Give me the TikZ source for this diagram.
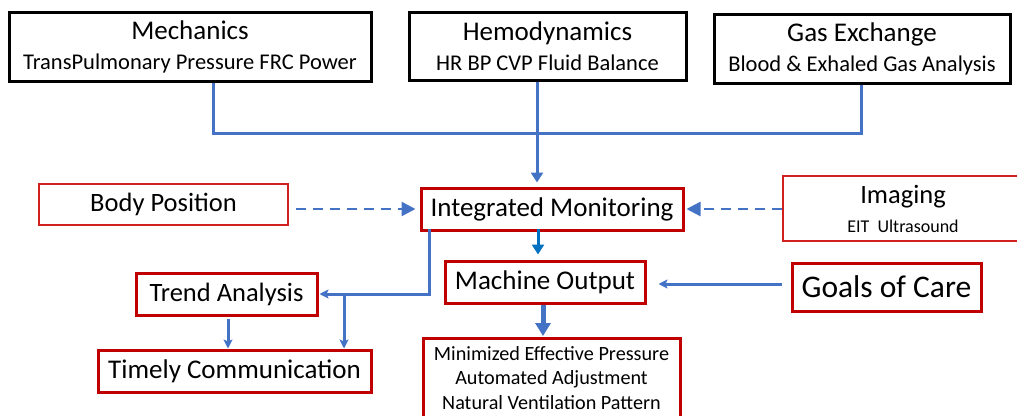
\documentclass[tikz,border=0pt]{standalone}
\usepackage{fontspec}
\setmainfont{Carlito}
\usetikzlibrary{arrows.meta}
\definecolor{lblue}{HTML}{4472C4}
\definecolor{mblue}{HTML}{0070C0}
\definecolor{dred}{HTML}{C00000}
\definecolor{tred}{HTML}{D02020}
\newcommand{\fs}[2]{\fontsize{#1}{#2}\selectfont}
\tikzset{
  blackbox/.style={draw=black, line width=3pt, inner sep=0pt, align=center, fill=white, font=\fs{22.5}{30}},
  redbox/.style={draw=dred, line width=3pt, inner sep=0pt, align=center, fill=white},
  thinbox/.style={draw=tred, line width=1.2pt, inner sep=0pt, align=center, fill=white},
  conn/.style={draw=lblue, line width=3pt},
  dashconn/.style={draw=lblue, line width=2.5pt, dash pattern=on 10pt off 7pt, -{Triangle[width=14pt,length=14pt]}},
  tri/.style={-{Triangle[width=12pt,length=10pt]}},
  sarrow/.style={-{Stealth[width=9pt,length=9pt,inset=2pt]}}
}
\begin{document}
\begin{tikzpicture}[x=1pt,y=-1pt]
\useasboundingbox (0,0) rectangle (1017,415);
% top boxes
\node[blackbox, minimum width=362pt, minimum height=69pt] (mech) at (190,46.5)
  {{\fs{27}{30}Mechanics}\\TransPulmonary Pressure FRC Power};
\node[blackbox, minimum width=277pt, minimum height=68pt] (hemo) at (547.5,46)
  {{\fs{27}{30}Hemodynamics}\\HR BP CVP Fluid Balance};
\node[blackbox, minimum width=296pt, minimum height=69pt] (gas) at (862,48.5)
  {{\fs{27}{30}Gas Exchange}\\Blood \& Exhaled Gas Analysis};
% middle row
\node[thinbox, font=\fs{26.5}{30}, minimum width=249pt, minimum height=41pt] (body) at (163.5,204.5) {Body Position};
\node[redbox, font=\fs{27}{30}, minimum width=262pt, minimum height=42pt] (integ) at (552,209) {Integrated Monitoring};
\node[thinbox, font=\fs{18}{29}, minimum width=240pt, minimum height=65pt] (img) at (903,208.5)
  {{\fs{26.5}{29}Imaging}\\EIT\ \ Ultrasound};
\node[redbox, font=\fs{27}{30}, minimum width=200pt, minimum height=42pt] (mach) at (545,282) {Machine Output};
\node[redbox, font=\fs{31.5}{34}, minimum width=189pt, minimum height=48pt] (goals) at (886.5,287) {Goals of Care};
\node[redbox, minimum width=257pt, minimum height=88pt, anchor=north] (out) at (551.5,337) {};
\node[align=center, inner sep=0pt, font=\fs{20.2}{24.5}] (outtxt) at (551.5,378)
  {Minimized Effective Pressure\\Automated Adjustment\\Natural Ventilation Pattern};
\node[redbox, font=\fs{26.5}{30}, minimum width=181pt, minimum height=42pt] (trend) at (226.5,294) {Trend Analysis};
\node[redbox, font=\fs{27}{30}, minimum width=273pt, minimum height=42pt] (timely) at (234.5,371) {Timely Communication};
% connectors
\coordinate (j1) at (213,133);
\coordinate (j2) at (861,133);
\coordinate (j3) at (537,133);
\draw[conn] (mech.south -| j1) -- (j1) -- (j2) -- (gas.south -| j2);
\draw[conn, tri, shorten >=4pt] (hemo.south -| j3) -- (integ.north -| j3);
\draw[dashconn] ([xshift=7pt]body.east |- integ.west) -- ([xshift=-4pt]integ.west);
\draw[dashconn] (img.west |- integ.east) -- ([xshift=2pt]integ.east);
\coordinate (j4) at (538,0);
\draw[draw=mblue, line width=3pt, -{Triangle[width=12pt,length=10pt]}, shorten >=5pt] ([yshift=3pt]integ.south -| j4) -- (mach.north -| j4);
\coordinate (j5) at (543,0);
\draw[conn, line width=5pt, -{Triangle[width=15pt,length=13pt]}, shorten >=1pt] (mach.south -| j5) -- (out.north -| j5);
\coordinate (j6) at (0,284);
\draw[conn, sarrow, shorten >=12pt] ([xshift=-9pt]goals.west |- j6) -- (mach.east |- j6);
\coordinate (j7) at (429,294);
\coordinate (j8) at (344,294);
\draw[conn, sarrow, shorten >=1pt] ([yshift=3pt]integ.south -| j7) -- (j7) -- (trend.east |- j7);
\draw[conn, sarrow] (j8) -- (timely.north -| j8);
\coordinate (j9) at (228,0);
\draw[conn, sarrow, shorten <=2pt] (trend.south -| j9) -- (timely.north -| j9);
\end{tikzpicture}
\end{document}
